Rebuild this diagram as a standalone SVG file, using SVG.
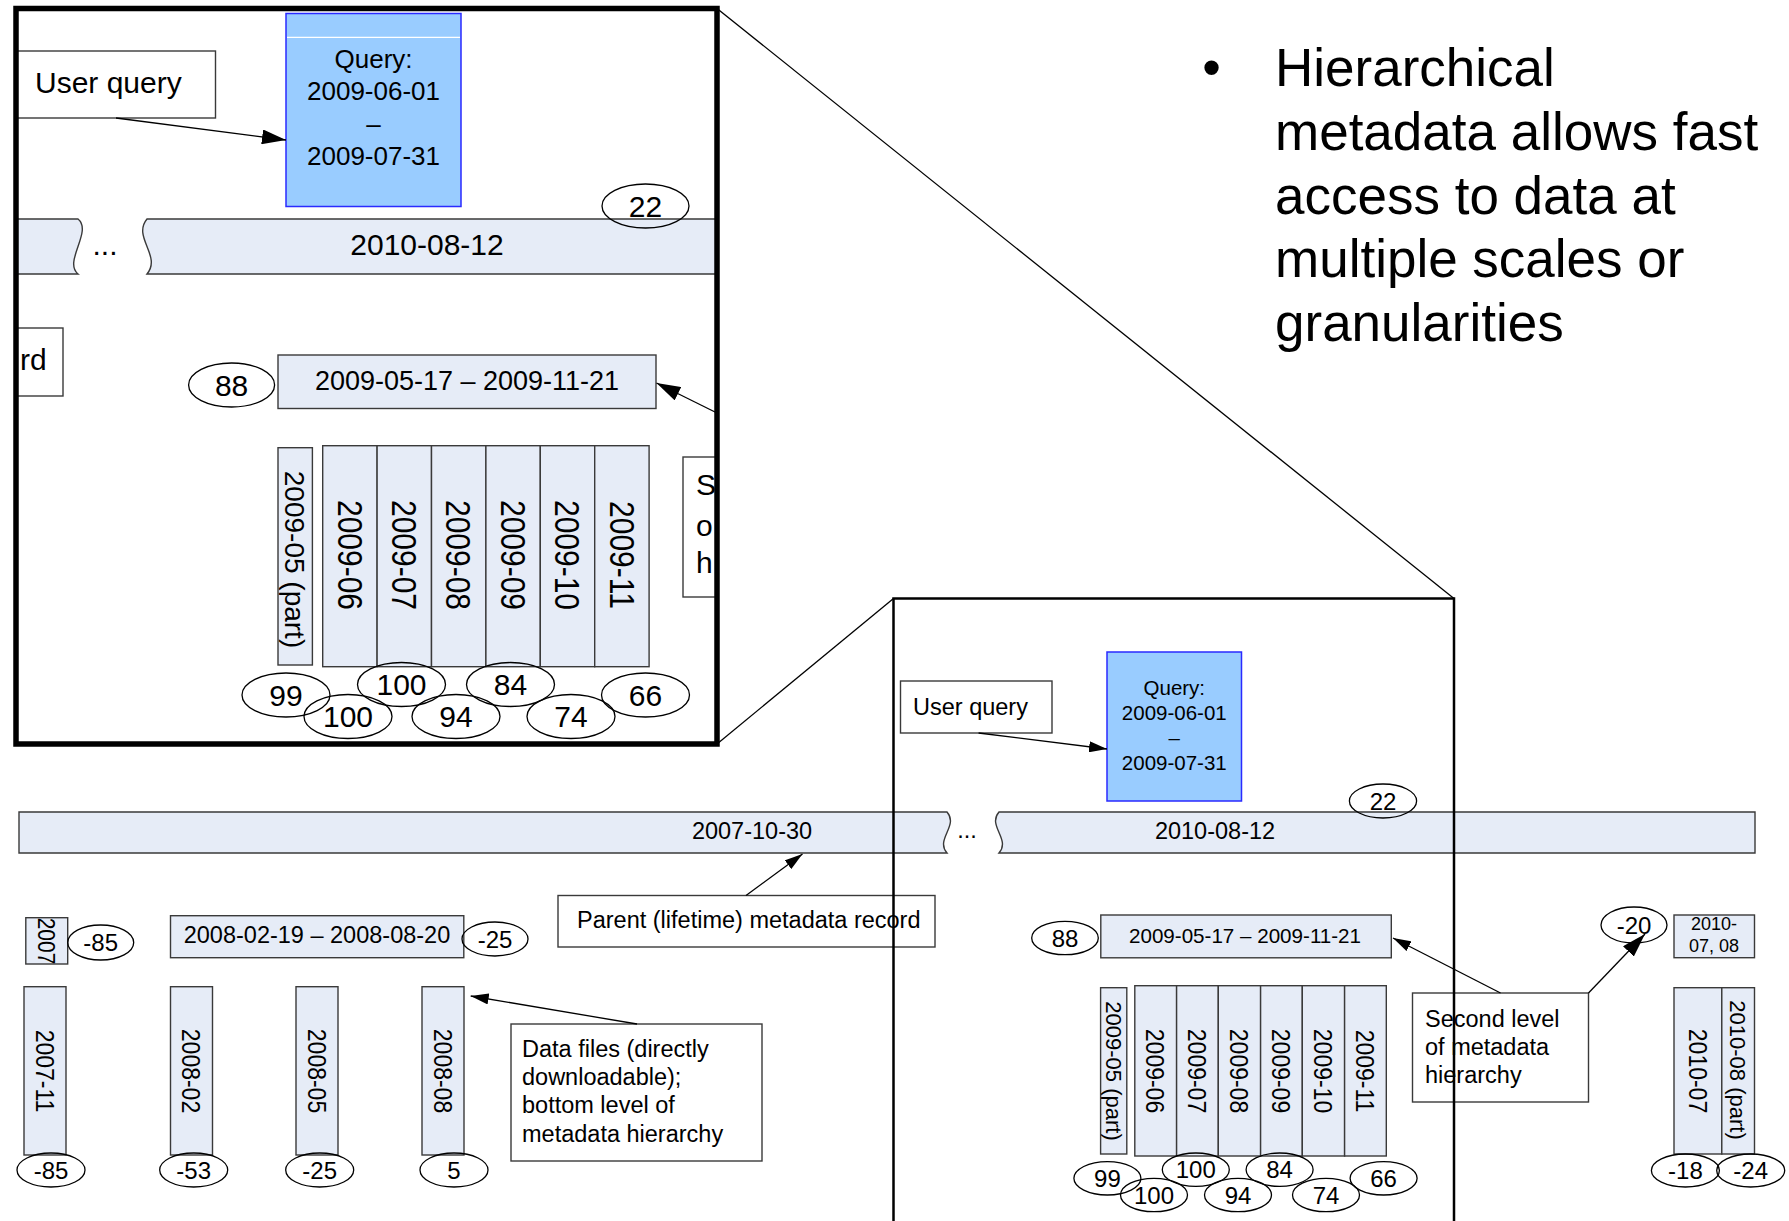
<svg xmlns="http://www.w3.org/2000/svg" width="1789" height="1221" viewBox="0 0 1789 1221">
  <style>
    text { font-family: "Liberation Sans", Arial, sans-serif; fill: #000; }
    .mid { text-anchor: middle; }
    .box { fill: #e6ecf7; stroke: #3a3a3a; stroke-width: 1.4; }
    .note { fill: #fff; stroke: #3a3a3a; stroke-width: 1.4; }
    .qry { fill: #99ccff; stroke: #2a2aff; stroke-width: 1.5; }
    .ell { fill: none; stroke: #000; stroke-width: 1.3; }
    .conn { fill: none; stroke: #000; stroke-width: 1.3; }
    .frame { fill: none; stroke: #000; }
    .f30 { font-size: 30px; }
    .f24 { font-size: 24px; }
    .f235 { font-size: 23.5px; }
  </style>
  <defs>
    <marker id="arrS" viewBox="0 0 10 10" refX="10" refY="5" markerUnits="userSpaceOnUse" markerWidth="18" markerHeight="11" preserveAspectRatio="none" orient="auto">
      <path d="M0,0 L10,5 L0,10 z" fill="#000"/>
    </marker>
    <marker id="arrL" viewBox="0 0 10 10" refX="10" refY="5" markerUnits="userSpaceOnUse" markerWidth="24" markerHeight="15" preserveAspectRatio="none" orient="auto">
      <path d="M0,0 L10,5 L0,10 z" fill="#000"/>
    </marker>
  </defs>

  <!-- bullet text -->
  <g id="bullet-text">
    <text x="1211.5" y="86" class="mid" font-size="53">•</text>
    <text x="1275" font-size="53">
      <tspan x="1275" y="86">Hierarchical</tspan>
      <tspan x="1275" y="150">metadata allows fast</tspan>
      <tspan x="1275" y="213.5">access to data at</tspan>
      <tspan x="1275" y="277">multiple scales or</tspan>
      <tspan x="1275" y="340.5">granularities</tspan>
    </text>
  </g>

  <!-- ===== magnified view ===== -->
  <g id="zoom-view">
    <g id="z-user-query">
      <rect x="16" y="51" width="199.5" height="67" class="note"/>
      <text x="35" y="93" class="f30">User query</text>
    </g>
    <g id="z-query">
      <rect x="286" y="13.5" width="175" height="193" class="qry"/>
      <line x1="287" y1="37.3" x2="460" y2="37.3" stroke="#fff" stroke-width="1.2"/>
      <g class="mid" font-size="26">
        <text x="373.5" y="68">Query:</text>
        <text x="373.5" y="100">2009-06-01</text>
        <text x="373.5" y="133">–</text>
        <text x="373.5" y="165">2009-07-31</text>
      </g>
    </g>
    <g id="z-lifetime">
      <path d="M16,219 H78 C93,231 63,262 78,274 H16 Z" class="box"/>
      <path d="M147,219 H716 V274 H147 C162,256 132,237 147,219 Z" class="box"/>
      <text x="105" y="255" class="mid f30">...</text>
      <text x="427" y="255" class="mid f30">2010-08-12</text>
    </g>
    <g id="z-score-22">
      <ellipse cx="645.5" cy="206" rx="43.5" ry="22" class="ell"/>
      <text x="645.5" y="216.7" class="mid f30">22</text>
    </g>
    <g id="z-parent-note">
      <rect x="16" y="328" width="47" height="68" class="note"/>
      <text x="20" y="370" class="f30">rd</text>
    </g>
    <g id="z-second">
      <rect x="278" y="355" width="378" height="53.5" class="box"/>
      <text x="467" y="390" class="mid" font-size="27">2009-05-17 – 2009-11-21</text>
      <ellipse cx="231.6" cy="385" rx="43" ry="22" class="ell"/>
      <text x="231.6" y="395.7" class="mid f30">88</text>
    </g>
    <g id="z-second-note">
      <rect x="683" y="457" width="33" height="140" class="note"/>
      <text x="696" y="495" class="f30">S</text>
      <text x="696" y="536" class="f30">o</text>
      <text x="696" y="573" class="f30">h</text>
    </g>
    <g id="z-months">
      <rect x="278" y="447.7" width="34.4" height="217.3" class="box"/>
      <text transform="translate(295.2,559.5) rotate(90)" y="10" class="mid" font-size="28">2009-05 (part)</text>
      <rect x="322.7" y="445.7" width="54.4" height="221" class="box"/>
      <rect x="377.1" y="445.7" width="54.4" height="221" class="box"/>
      <rect x="431.5" y="445.7" width="54.4" height="221" class="box"/>
      <rect x="485.9" y="445.7" width="54.4" height="221" class="box"/>
      <rect x="540.3" y="445.7" width="54.4" height="221" class="box"/>
      <rect x="594.7" y="445.7" width="54.4" height="221" class="box"/>
      <g class="mid f30">
        <text transform="translate(349.9,555) rotate(90) scale(1,1.15)" y="10.7">2009-06</text>
        <text transform="translate(404.3,555) rotate(90) scale(1,1.15)" y="10.7">2009-07</text>
        <text transform="translate(458.7,555) rotate(90) scale(1,1.15)" y="10.7">2009-08</text>
        <text transform="translate(513.1,555) rotate(90) scale(1,1.15)" y="10.7">2009-09</text>
        <text transform="translate(567.5,555) rotate(90) scale(1,1.15)" y="10.7">2009-10</text>
        <text transform="translate(621.9,555) rotate(90) scale(1,1.15)" y="10.7">2009-11</text>
      </g>
    </g>
    <g id="z-scores">
      <ellipse cx="286" cy="695" rx="44" ry="22" class="ell"/>
      <ellipse cx="401.5" cy="684.5" rx="44" ry="22" class="ell"/>
      <ellipse cx="348" cy="716.5" rx="44" ry="22" class="ell"/>
      <ellipse cx="456" cy="716.5" rx="44" ry="22" class="ell"/>
      <ellipse cx="510.5" cy="684.5" rx="44" ry="22" class="ell"/>
      <ellipse cx="571" cy="716.5" rx="44" ry="22" class="ell"/>
      <ellipse cx="645.5" cy="695" rx="44" ry="22" class="ell"/>
      <g class="mid f30">
        <text x="286" y="705.7">99</text>
        <text x="401.5" y="695.2">100</text>
        <text x="348" y="727.2">100</text>
        <text x="456" y="727.2">94</text>
        <text x="510.5" y="695.2">84</text>
        <text x="571" y="727.2">74</text>
        <text x="645.5" y="705.7">66</text>
      </g>
    </g>
    <g id="z-connectors">
      <line x1="116" y1="118" x2="286" y2="140" class="conn" marker-end="url(#arrL)"/>
      <line x1="717" y1="413" x2="656.5" y2="383" class="conn" marker-end="url(#arrL)"/>
    </g>
    <rect id="zoom-frame" x="16" y="8.5" width="701" height="735.5" class="frame" stroke-width="5.5"/>
  </g>

  <!-- ===== full timeline ===== -->
  <g id="lifetime">
    <path d="M19,812 H947 C959,825.7 935,839.3 947,853 H19 Z" class="box"/>
    <path d="M999,812 H1755 V853 H999 C1011,839.3 987,825.7 999,812 Z" class="box"/>
    <text x="967" y="838" class="mid f235">...</text>
    <text x="752" y="839" class="mid f235">2007-10-30</text>
    <text x="1215" y="839" class="mid f235">2010-08-12</text>
  </g>
  <g id="score-22">
    <ellipse cx="1383" cy="801" rx="33.6" ry="17" class="ell"/>
    <text x="1383" y="809.6" class="mid f24">22</text>
  </g>
  <g id="user-query">
    <rect x="900.5" y="681" width="151.5" height="52" class="note"/>
    <text x="913" y="715" class="f235">User query</text>
  </g>
  <g id="query">
    <rect x="1107" y="652" width="134.5" height="149" class="qry"/>
    <g class="mid" font-size="20.5">
      <text x="1174.3" y="695">Query:</text>
      <text x="1174.3" y="720">2009-06-01</text>
      <text x="1174.3" y="745">–</text>
      <text x="1174.3" y="770">2009-07-31</text>
    </g>
  </g>
  <g id="parent-note">
    <rect x="558" y="895.5" width="377" height="51.5" class="note"/>
    <text x="577" y="928" class="f235">Parent (lifetime) metadata record</text>
  </g>

  <g id="year-2007">
    <rect x="25.8" y="917.7" width="41.9" height="46.3" class="box"/>
    <text transform="translate(46.7,941) rotate(90) scale(1,1.15)" y="7.5" class="mid" font-size="21">2007</text>
    <ellipse cx="100.7" cy="942.5" rx="33" ry="17.5" class="ell"/>
    <text x="100.7" y="951.1" class="mid f24">-85</text>
  </g>
  <g id="range-2008">
    <rect x="170.5" y="915.7" width="293.3" height="42" class="box"/>
    <text x="317" y="943.3" class="mid f235">2008-02-19 – 2008-08-20</text>
    <ellipse cx="495" cy="939" rx="33" ry="17" class="ell"/>
    <text x="495" y="947.6" class="mid f24">-25</text>
  </g>
  <g id="files-2007-2008">
    <rect x="24" y="986.7" width="42" height="168.3" class="box"/>
    <rect x="170.5" y="986.7" width="42" height="168.3" class="box"/>
    <rect x="296" y="986.7" width="42" height="168.3" class="box"/>
    <rect x="422" y="986.7" width="42" height="168.3" class="box"/>
    <g class="mid" font-size="23">
      <text transform="translate(45,1071) rotate(90) scale(1,1.15)" y="8.2">2007-11</text>
      <text transform="translate(191.5,1071) rotate(90) scale(1,1.15)" y="8.2">2008-02</text>
      <text transform="translate(317,1071) rotate(90) scale(1,1.15)" y="8.2">2008-05</text>
      <text transform="translate(443,1071) rotate(90) scale(1,1.15)" y="8.2">2008-08</text>
    </g>
    <ellipse cx="51" cy="1170" rx="34" ry="17" class="ell"/>
    <ellipse cx="193.7" cy="1170" rx="34" ry="17" class="ell"/>
    <ellipse cx="319.7" cy="1170" rx="34" ry="17" class="ell"/>
    <ellipse cx="454" cy="1170" rx="34" ry="17" class="ell"/>
    <g class="mid f24">
      <text x="51" y="1178.6">-85</text>
      <text x="193.7" y="1178.6">-53</text>
      <text x="319.7" y="1178.6">-25</text>
      <text x="454" y="1178.6">5</text>
    </g>
  </g>
  <g id="files-note">
    <rect x="511" y="1024" width="251" height="137" class="note"/>
    <text class="f235">
      <tspan x="522" y="1057">Data files (directly</tspan>
      <tspan x="522" y="1085">downloadable);</tspan>
      <tspan x="522" y="1113">bottom level of</tspan>
      <tspan x="522" y="1141.5">metadata hierarchy</tspan>
    </text>
  </g>

  <g id="range-2009">
    <rect x="1100.8" y="915" width="290.5" height="42.8" class="box"/>
    <text x="1245" y="943" class="mid" font-size="20.6">2009-05-17 – 2009-11-21</text>
    <ellipse cx="1065" cy="938" rx="33.3" ry="16.7" class="ell"/>
    <text x="1065" y="946.6" class="mid f24">88</text>
  </g>
  <g id="files-2009">
    <rect x="1100.6" y="987.7" width="26.2" height="166.3" class="box"/>
    <text transform="translate(1113.7,1071) rotate(90)" y="7.8" class="mid" font-size="22">2009-05 (part)</text>
    <rect x="1134.8" y="985.7" width="41.8" height="170.3" class="box"/>
    <rect x="1176.6" y="985.7" width="41.7" height="170.3" class="box"/>
    <rect x="1218.3" y="985.7" width="42.3" height="170.3" class="box"/>
    <rect x="1260.6" y="985.7" width="41.7" height="170.3" class="box"/>
    <rect x="1302.3" y="985.7" width="42.3" height="170.3" class="box"/>
    <rect x="1344.6" y="985.7" width="41.7" height="170.3" class="box"/>
    <g class="mid" font-size="23">
      <text transform="translate(1155.7,1071) rotate(90) scale(1,1.15)" y="8.2">2009-06</text>
      <text transform="translate(1197.5,1071) rotate(90) scale(1,1.15)" y="8.2">2009-07</text>
      <text transform="translate(1239.5,1071) rotate(90) scale(1,1.15)" y="8.2">2009-08</text>
      <text transform="translate(1281.5,1071) rotate(90) scale(1,1.15)" y="8.2">2009-09</text>
      <text transform="translate(1323.5,1071) rotate(90) scale(1,1.15)" y="8.2">2009-10</text>
      <text transform="translate(1365.5,1071) rotate(90) scale(1,1.15)" y="8.2">2009-11</text>
    </g>
    <ellipse cx="1107.4" cy="1178.3" rx="33.5" ry="16.7" class="ell"/>
    <ellipse cx="1195.8" cy="1169.7" rx="33.5" ry="16.7" class="ell"/>
    <ellipse cx="1154" cy="1195" rx="33.5" ry="16.7" class="ell"/>
    <ellipse cx="1238" cy="1195" rx="33.5" ry="16.7" class="ell"/>
    <ellipse cx="1279.6" cy="1169.7" rx="33.5" ry="16.7" class="ell"/>
    <ellipse cx="1326" cy="1195" rx="33.5" ry="16.7" class="ell"/>
    <ellipse cx="1383.6" cy="1178.3" rx="33.5" ry="16.7" class="ell"/>
    <g class="mid f24">
      <text x="1107.4" y="1186.9">99</text>
      <text x="1195.8" y="1178.3">100</text>
      <text x="1154" y="1203.6">100</text>
      <text x="1238" y="1203.6">94</text>
      <text x="1279.6" y="1178.3">84</text>
      <text x="1326" y="1203.6">74</text>
      <text x="1383.6" y="1186.9">66</text>
    </g>
  </g>
  <g id="second-note">
    <rect x="1412.5" y="993" width="176" height="109" class="note"/>
    <text class="f235">
      <tspan x="1425" y="1027">Second level</tspan>
      <tspan x="1425" y="1055">of metadata</tspan>
      <tspan x="1425" y="1083">hierarchy</tspan>
    </text>
  </g>
  <g id="range-2010">
    <rect x="1674" y="915" width="80.5" height="42.7" class="box"/>
    <g class="mid" font-size="18">
      <text x="1714" y="930">2010-</text>
      <text x="1714" y="951.7">07, 08</text>
    </g>
    <ellipse cx="1634" cy="925" rx="33" ry="18" class="ell"/>
    <text x="1634" y="933.6" class="mid f24">-20</text>
  </g>
  <g id="files-2010">
    <rect x="1674" y="987.7" width="47.8" height="166.3" class="box"/>
    <rect x="1721.8" y="987.7" width="32.7" height="166.3" class="box"/>
    <text transform="translate(1698,1071) rotate(90) scale(1,1.15)" y="8.2" class="mid" font-size="23">2010-07</text>
    <text transform="translate(1738,1070) rotate(90)" y="7.8" class="mid" font-size="22">2010-08 (part)</text>
    <ellipse cx="1685.4" cy="1170.5" rx="34" ry="16.5" class="ell"/>
    <ellipse cx="1750.7" cy="1170.5" rx="34" ry="16.5" class="ell"/>
    <text x="1685.4" y="1179.1" class="mid f24">-18</text>
    <text x="1750.7" y="1179.1" class="mid f24">-24</text>
  </g>

  <g id="connectors">
    <line x1="978.6" y1="733" x2="1107" y2="749" class="conn" marker-end="url(#arrS)"/>
    <line x1="746" y1="895.5" x2="802.5" y2="854" class="conn" marker-end="url(#arrS)"/>
    <line x1="637" y1="1024" x2="470.7" y2="996" class="conn" marker-end="url(#arrS)"/>
    <line x1="1500.5" y1="993" x2="1393" y2="938" class="conn" marker-end="url(#arrS)"/>
    <line x1="1588.5" y1="993" x2="1645" y2="934" class="conn" marker-end="url(#arrL)"/>
    <!-- lines tying the magnified view to its source window -->
    <line x1="717" y1="8.5" x2="1454" y2="598.5" class="conn"/>
    <line x1="717" y1="744" x2="893.5" y2="598.5" class="conn"/>
  </g>

  <path id="source-window" d="M893.5,1221 V598.5 H1454 V1221" class="frame" stroke-width="2.5"/>
</svg>
